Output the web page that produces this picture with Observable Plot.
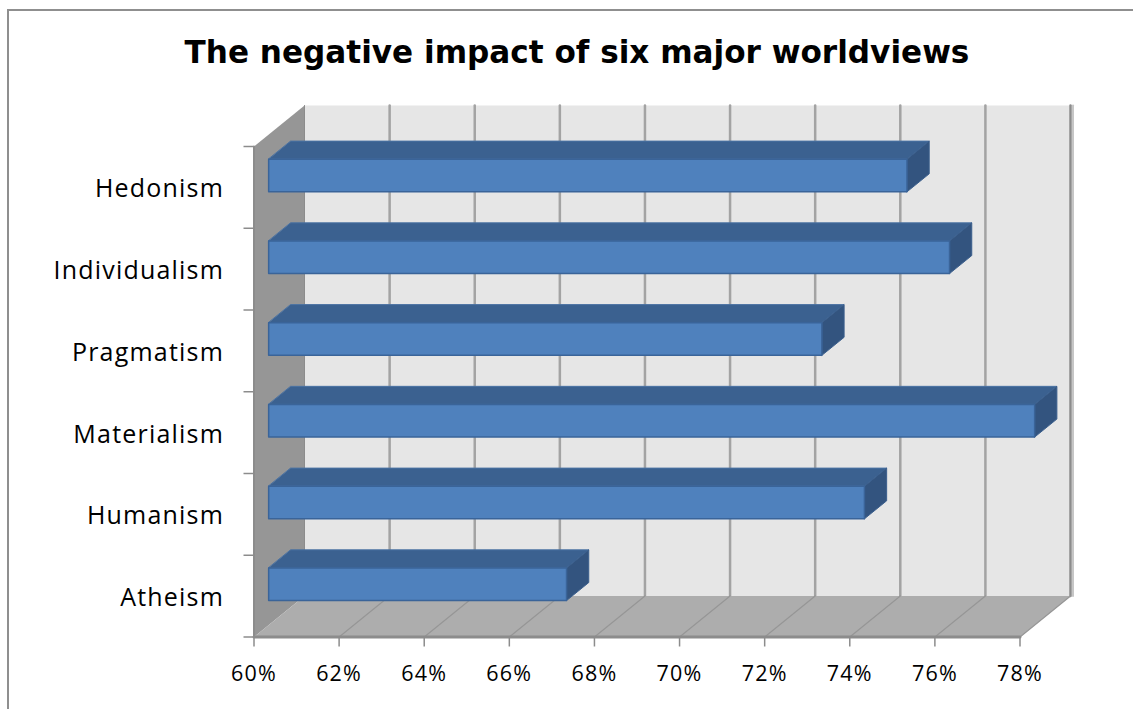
<!DOCTYPE html>
<html><head><meta charset="utf-8">
<script src="https://cdn.jsdelivr.net/npm/d3@7"></script>
<script src="https://cdn.jsdelivr.net/npm/@observablehq/plot@0.6"></script>
<style>
html,body{margin:0;padding:0;background:#fff;overflow:hidden}
#frame{position:absolute;left:7px;top:9px;width:1126px;height:700px;box-sizing:border-box;border-top:2px solid #8f8f8f;border-left:2px solid #8f8f8f}
#title{height:79px;box-sizing:border-box;padding:21px 0 0 12px;text-align:center;font:bold 31.1px/40px "DejaVu Sans",sans-serif;color:#000;white-space:nowrap}
svg{display:block}
</style></head><body>
<div id="frame"><div id="title">The negative impact of six major worldviews</div><div id="chart"></div></div>
<script>
const categories = ["Atheism","Humanism","Materialism","Pragmatism","Individualism","Hedonism"];
const impact = [67,74,78,73,76,75];
const xTicks = [60,62,64,66,68,70,72,74,76,78];

// 3-D oblique projection, in data units: depth 0 = front of floor, depth 1 = back wall
const depthX = 1.187, depthY = 0.5015;
const barDepth0 = 0.29, barDepth1 = 0.73, barPad = 0.3;
const xMin = 60, xMax = 78, yMin = 0, yMax = categories.length;
const P = (v, r, d, id) => ({x: v + d * depthX, y: r + d * depthY, id});
const quad = (id, a) => a.map(([v, r, d]) => P(v, r, d, id));
const poly = (data, fill, stroke, strokeWidth = 1) =>
  Plot.line(data, {x: "x", y: "y", z: "id", fill, stroke, strokeWidth, curve: "linear-closed", strokeLinejoin: "round"});
const seg = (data, stroke, strokeWidth, dx = 0) => Plot.line(data, {x: "x", y: "y", z: "id", stroke, strokeWidth, dx});

const wall = quad("wall", [[xMin,yMin,1],[xMax,yMin,1],[xMax,yMax,1],[xMin,yMax,1]]);
const side = quad("side", [[xMin,yMin,0],[xMin,yMin,1],[xMin,yMax,1],[xMin,yMax,0]]);
const floor = quad("floor", [[xMin,yMin,0],[xMax,yMin,0],[xMax,yMin,1],[xMin,yMin,1]]);
const rightEdge = quad("r", [[xMax,yMin,1],[xMax,yMax,1]]);
const gridBack = xTicks.slice(1,-1).flatMap(t => quad("b"+t, [[t,yMin,1],[t,yMax,1]]));
const gridFloor = xTicks.slice(1).flatMap(t => quad("f"+t, [[t,yMin,0],[t,yMin,1]]));
const leftEdge = quad("l", [[xMin,yMin,0],[xMin,yMax,0]]);
const bottomEdge = quad("e", [[xMin,yMin,0],[xMax,yMin,0]]);
const wallBack = quad("wb", [[xMin,yMin,1],[xMin,yMax,1]]);

const tops = impact.flatMap((v,i) => quad("t"+i, [[xMin,i+1-barPad,barDepth0],[v,i+1-barPad,barDepth0],[v,i+1-barPad,barDepth1],[xMin,i+1-barPad,barDepth1]]));
const ends = impact.flatMap((v,i) => quad("s"+i, [[v,i+barPad,barDepth0],[v,i+barPad,barDepth1],[v,i+1-barPad,barDepth1],[v,i+1-barPad,barDepth0]]));
const fronts = impact.flatMap((v,i) => quad("f"+i, [[xMin,i+barPad,barDepth0],[v,i+barPad,barDepth0],[v,i+1-barPad,barDepth0],[xMin,i+1-barPad,barDepth0]]));

const offX = 9, offY = 90, W = 1124, H = 619;
const chart = Plot.plot({
  width: W, height: H,
  marginLeft: 253.5-offX, marginRight: W-(1019.5-offX), marginTop: 146-offY, marginBottom: H-(636.5-offY),
  x: {type: "linear", domain: [xMin,xMax]},
  y: {type: "linear", domain: [yMin,yMax]},
  style: {background: "transparent", letterSpacing: "1.2px"},
  marks: [
    poly(wall, "#e6e6e6", "none"),
    seg(rightEdge, "#c6c6c6", 2, 2.5),
    seg(rightEdge, "#8c8c8c", 2.5),
    seg(gridBack, "#a3a3a3", 2.5),
    poly(side, "#969696", "none"),
    poly(floor, "#adadad", "none"),
    seg(gridFloor, "#969696", 1.2),
    seg(wallBack, "#8c8c8c", 1),
    seg(leftEdge, "#8c8c8c", 2),
    seg(bottomEdge, "#8c8c8c", 3),
    Plot.axisX({ticks: xTicks, tickFormat: d => d + "%", anchor: "bottom", tickSize: 10, tickPadding: 19, stroke: "#8c8c8c", strokeWidth: 1.5, fontSize: 21.5, fontFamily: "Open Sans", fill: "#000", label: null}),
    Plot.axisY({ticks: d3.range(yMin,yMax+1), tickFormat: null, anchor: "left", tickSize: 10, text: null, stroke: "#8c8c8c", strokeWidth: 1.5, label: null}),
    Plot.text(categories, {x: xMin, y: (d,i) => i + 0.5, text: d => d, textAnchor: "end", dx: -30, dy: 2, fontSize: 25, fontFamily: "Open Sans", fill: "#000"}),
    poly(tops, "#3b6190", "#4a72a3"),
    poly(ends, "#33547f", "#3b5f8d"),
    poly(fronts, "#4f81bd", "#3a6499", 1.5)
  ]
});
document.getElementById("chart").append(chart);
</script>
</body></html>
